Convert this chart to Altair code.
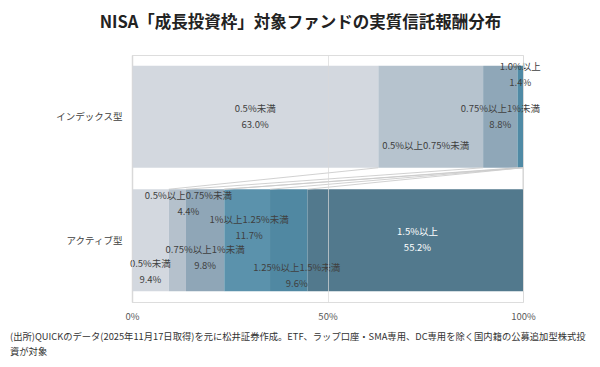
import altair as alt
import pandas as pd

# ---- data ----
categories = ["インデックス型", "アクティブ型"]
index_bands = ["0.5%未満", "0.5%以上0.75%未満", "0.75%以上1%未満", "1.0%以上"]
index_values = [63.0, 26.8, 8.8, 1.4]
index_show_value = [True, False, True, True]
active_bands = ["0.5%未満", "0.5%以上0.75%未満", "0.75%以上1%未満",
                "1%以上1.25%未満", "1.25%以上1.5%未満", "1.5%以上"]
active_values = [9.4, 4.4, 9.8, 11.7, 9.6, 55.2]
active_show_value = [True, True, True, True, True, True]
series_order = ["0.5%未満", "0.5%以上0.75%未満", "0.75%以上1%未満", "1.0%以上",
                "1%以上1.25%未満", "1.25%以上1.5%未満", "1.5%以上"]
x_ticks = [0, 50, 100]
title_text = "NISA「成長投資枠」対象ファンドの実質信託報酬分布"
note_lines = [
    "(出所)QUICKのデータ(2025年11月17日取得)を元に松井証券作成。ETF、ラップ口座・SMA専用、DC専用を除く国内籍の公募追加型株式投",
    "資が対象",
]

# ---- styles ----
index_colors = ["#d3d8df", "#b6c3ce", "#8fa7b8", "#4f8aa5"]
active_colors = ["#d3d8df", "#b5c1cc", "#8fa6b7", "#5b92ac", "#5088a2", "#52798d"]
index_text_colors = ["#404040"] * 4
active_text_colors = ["#404040"] * 5 + ["#ffffff"]
# label offsets in pixels (dx, dy of first line relative to segment centre)
index_label_dx = [0, -5, 0, 0]
index_label_dy = [-8, 29, -8, -50]
active_label_dx = [0, 11, 0, 2, 8, 2]
active_label_dy = [24, -44, 10, -20, 28, -8]

W, H = 391, 247
STEP = H / 2.0          # pixels per y unit
HALF = 0.413            # half bar thickness in y units
FONT = "Noto Sans CJK JP"
line_gap = 16

seg_rows, lab_rows = [], []
groups = [
    (categories[0], 0.5, index_bands, index_values, index_show_value, index_colors,
     index_text_colors, index_label_dx, index_label_dy),
    (categories[1], 1.5, active_bands, active_values, active_show_value, active_colors,
     active_text_colors, active_label_dx, active_label_dy),
]
keys, colors = [], []
for cat, yc, bands, vals, shows, cols, tcols, ldx, ldy in groups:
    cum = 0.0
    for b, v, s, c, tc, dx, dy in zip(bands, vals, shows, cols, tcols, ldx, ldy):
        key = cat + "|" + b
        keys.append(key)
        colors.append(c)
        seg_rows.append(dict(key=key, x0=cum, x1=min(cum + v, 100), y0=yc - HALF, y1=yc + HALF))
        mid = cum + v / 2 + dx * 100 / W
        lab_rows.append(dict(x=mid, y=yc + dy / STEP, t=b, c=tc))
        if s:
            lab_rows.append(dict(x=mid, y=yc + (dy + line_gap) / STEP, t=f"{v:.1f}%", c=tc))
        cum += v
seg = pd.DataFrame(seg_rows)
labs = pd.DataFrame(lab_rows)

# series lines connecting cumulative boundaries
cum_i = dict()
cum_a = dict()
ci = ca = 0.0
for s in series_order:
    if s in index_bands:
        ci += index_values[index_bands.index(s)]
    if s in active_bands:
        ca += active_values[active_bands.index(s)]
    cum_i[s] = min(ci, 100)
    cum_a[s] = min(ca, 100)
conn = pd.DataFrame([dict(s=s, x0=cum_i[s], x1=cum_a[s], y0=0.5 + HALF, y1=1.5 - HALF)
                     for s in series_order])

xscale = alt.Scale(domain=[0, 100], nice=False, zero=False)
yscale = alt.Scale(domain=[0, 2], reverse=True, nice=False, zero=False)

cat_expr = "datum.value < 1 ? '" + categories[0] + "' : '" + categories[1] + "'"

bars = alt.Chart(seg).mark_rect().encode(
    x=alt.X("x0:Q", scale=xscale, title=None,
            axis=alt.Axis(values=x_ticks, labelExpr="datum.value + '%'", grid=True,
                          gridColor="#d9d9d9", gridOpacity=0.7, domain=False, ticks=False,
                          labelFont=FONT, labelFontSize=9.5, labelColor="#595959",
                          labelPadding=9, labelFlush=False, zindex=1)),
    x2="x1:Q",
    y=alt.Y("y0:Q", scale=yscale, title=None,
            axis=alt.Axis(values=[0.5, 1.5], labelExpr=cat_expr, grid=False, ticks=False,
                          domain=True, domainColor="#d9d9d9", domainWidth=1.5,
                          labelFont=FONT, labelFontSize=9.5, labelColor="#404040",
                          labelPadding=10)),
    y2="y1:Q",
    color=alt.Color("key:N", scale=alt.Scale(domain=keys, range=colors), legend=None),
)

lines = alt.Chart(conn).mark_rule(color="#cccccc", strokeWidth=0.9).encode(
    x="x0:Q", x2="x1:Q", y="y0:Q", y2="y1:Q")

text = alt.Chart(labs).mark_text(font=FONT, fontSize=9.5, baseline="middle").encode(
    x="x:Q", y="y:Q", text="t:N", color=alt.Color("c:N", scale=None))

note1 = alt.Chart(pd.DataFrame({"t": [note_lines[0]]})).mark_text(
    font=FONT, fontSize=9.3, align="left", baseline="middle", color="#333333"
).encode(text="t:N", x=alt.value(-122), y=alt.value(282))
note2 = alt.Chart(pd.DataFrame({"t": [note_lines[1]]})).mark_text(
    font=FONT, fontSize=9.3, align="left", baseline="middle", color="#333333"
).encode(text="t:N", x=alt.value(-122), y=alt.value(297))

chart = alt.layer(bars, lines, text, note1, note2).properties(
    width=W, height=H,
    autosize=alt.AutoSizeParams(type="none"),
    padding={"left": 124, "top": 47, "right": 69, "bottom": 57},
    title=alt.TitleParams(title_text, font=FONT, fontSize=16.5, fontWeight="bold",
                          color="#222222", anchor="middle", dx=-27, offset=24),
).configure_view(strokeWidth=0).configure(background="white")

chart.save("out.html", embed_options={"renderer": "svg", "actions": False})
